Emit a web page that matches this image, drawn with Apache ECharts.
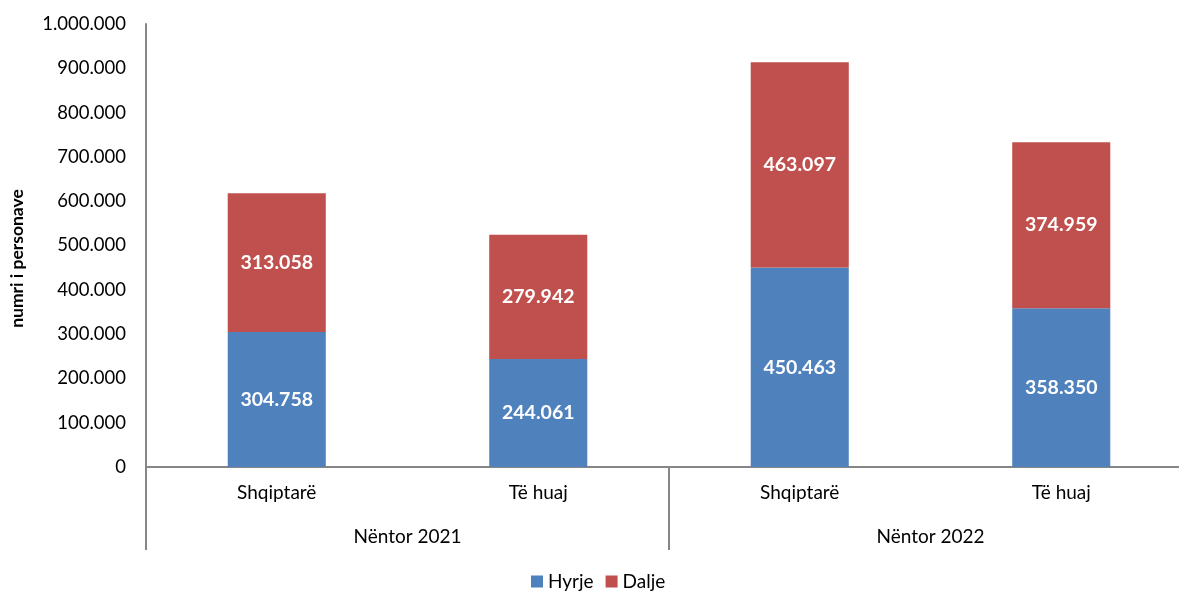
<!DOCTYPE html>
<html>
<head>
<meta charset="utf-8">
<script src="https://cdn.jsdelivr.net/npm/echarts@6/dist/echarts.min.js"></script>
<style>
html,body{margin:0;padding:0;background:#fff;overflow:hidden;}
#c{width:1192px;height:594px;}
</style>
</head>
<body>
<div id="c"></div>
<script>
var categories = ['Shqiptarë', 'Të huaj', 'Shqiptarë', 'Të huaj'];
var groups = ['Nëntor 2021', 'Nëntor 2022'];
var hyrje = [304758, 244061, 450463, 358350];
var dalje = [313058, 279942, 463097, 374959];
var seriesNames = ['Hyrje', 'Dalje'];
var yAxisName = 'numri i personave';

function fmt(v) {
  return String(Math.round(v)).replace(/\B(?=(\d{3})+(?!\d))/g, '.');
}

var font = 'Lato, "Open Sans", sans-serif';
var chart = echarts.init(document.getElementById('c'));
chart.setOption({
  animation: false,
  grid: { left: 146, top: 24, right: 0, height: 443, containLabel: false },
  legend: {
    data: seriesNames,
    bottom: -2,
    left: 526,
    itemWidth: 12, itemHeight: 12, itemGap: 12,
    icon: 'rect',
    textStyle: { fontFamily: font, fontSize: 19, color: '#000' }
  },
  xAxis: [
    {
      type: 'category',
      data: categories,
      axisLine: { lineStyle: { color: '#868686', width: 2 } },
      axisTick: { show: false },
      axisLabel: { margin: 16, fontFamily: font, fontSize: 19, color: '#000' }
    },
    {
      type: 'category',
      data: groups,
      position: 'bottom',
      axisLine: { show: false },
      axisTick: {
        show: true, length: 83,
        interval: function (i) { return i < 2; },
        lineStyle: { color: '#868686', width: 2 }
      },
      axisLabel: { margin: 60, fontFamily: font, fontSize: 19, color: '#000' }
    }
  ],
  yAxis: {
    type: 'value',
    min: 0, max: 1000000, interval: 100000,
    name: yAxisName,
    nameLocation: 'middle',
    nameGap: 120,
    nameTextStyle: { fontFamily: font, fontSize: 17.5, fontWeight: 'bold', color: '#000', padding: [0, 26, 0, 0] },
    axisLine: { show: true, lineStyle: { color: '#868686', width: 2 } },
    axisTick: { show: false },
    splitLine: { show: false },
    axisLabel: { margin: 20, fontFamily: font, fontSize: 18.5, color: '#000', formatter: fmt }
  },
  series: [
    {
      name: seriesNames[0], type: 'bar', stack: 's', data: hyrje, barWidth: '37.5%',
      itemStyle: { color: '#4F81BD' },
      label: { show: true, position: 'inside', color: '#fff', fontFamily: font, fontSize: 19.5, fontWeight: 'bold',
        formatter: function (p) { return fmt(p.value); } }
    },
    {
      name: seriesNames[1], type: 'bar', stack: 's', data: dalje, barWidth: '37.5%',
      itemStyle: { color: '#C0504D' },
      label: { show: true, position: 'inside', color: '#fff', fontFamily: font, fontSize: 19.5, fontWeight: 'bold',
        formatter: function (p) { return fmt(p.value); } }
    }
  ]
});
</script>
</body>
</html>
